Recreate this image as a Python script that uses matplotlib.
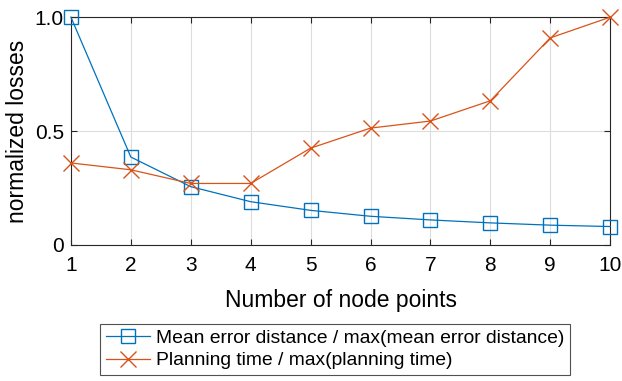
import matplotlib
matplotlib.use("Agg")
import matplotlib.pyplot as plt

nodes = [1, 2, 3, 4, 5, 6, 7, 8, 9, 10]
mean_err = [1.0, 0.386, 0.256, 0.19, 0.152, 0.126, 0.11, 0.097, 0.087, 0.081]
plan_time = [0.36, 0.33, 0.27, 0.27, 0.425, 0.513, 0.544, 0.633, 0.909, 1.0]
yticks = [0, 0.5, 1.0]
ytick_labels = ["0", "0.5", "1.0"]

plt.rcParams['font.family'] = ['Liberation Sans', 'DejaVu Sans']

fig = plt.figure(figsize=(6.22, 3.81), dpi=100)
ax = fig.add_axes([0.114, 0.357, 0.867, 0.598])

blue = '#0072BD'
orange = '#D95319'
ax.plot(nodes, mean_err, color=blue, lw=0.9, marker='s', ms=10, mfc='none', mec=blue, mew=1.0,
        label='Mean error distance / max(mean error distance)', clip_on=False, zorder=3)
ax.plot(nodes, plan_time, color=orange, lw=0.9, marker='x', ms=11, mew=1.0,
        label='Planning time / max(planning time)', clip_on=False, zorder=3)

ax.set_xlim(1, 10)
ax.set_ylim(0, 1)
ax.set_xticks(nodes)
ax.set_yticks(yticks)
ax.set_yticklabels(ytick_labels)
ax.grid(True, color='#dddddd', lw=0.8)
ax.set_axisbelow(True)
ax.tick_params(direction='in', length=4, labelsize=15, top=True, right=True, colors='#262626',
               width=0.8)
ax.tick_params(axis='x', pad=8)
ax.tick_params(axis='y', pad=5)
for lbl in ax.get_xticklabels() + ax.get_yticklabels():
    lbl.set_color('#000000')
for s in ax.spines.values():
    s.set_color('#262626')
    s.set_linewidth(0.8)
ax.set_xlabel('Number of node points', fontsize=16.5, color='#000000', labelpad=10)
ax.set_ylabel('normalized losses', fontsize=16.5, color='#000000', labelpad=4)

leg = fig.legend(loc='center', fontsize=13.9,
                 frameon=True, fancybox=False, edgecolor='#262626', handlelength=2.3,
                 borderpad=0.3, labelspacing=0.25, handletextpad=0.3, borderaxespad=0)
leg.set_bbox_to_anchor((335 / 622, 1 - 349.5 / 381), transform=fig.transFigure)
leg.get_frame().set_linewidth(0.8)

fig.savefig('out.png', dpi=100)
